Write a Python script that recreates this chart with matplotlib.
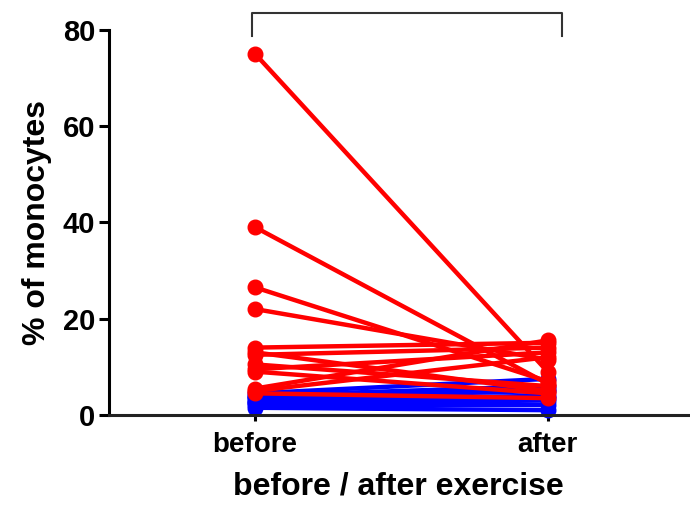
import matplotlib
matplotlib.use("Agg")
import matplotlib.pyplot as plt

plt.rcParams['font.family'] = ['Liberation Sans', 'DejaVu Sans']
plt.rcParams['font.weight'] = 'bold'

groups = ["before", "after"]
yticks = [0, 20, 40, 60, 80]

# red subjects: (before, after)
red_before = [75, 39, 26.5, 22, 14, 13, 12.5, 10.5, 9.5, 9, 5.5, 5, 4.5]
red_after = [9, 6.5, 7, 11.5, 15, 5, 14, 6, 13, 4.5, 15.5, 12, 3.5]

# blue subjects: (before, after)
blue_before = [4.5, 4, 3.8, 3.5, 3, 2.8, 2.5, 2, 1.5]
blue_after = [7.5, 6, 5.5, 5, 4, 3.5, 3, 2, 1]

fig = plt.figure(figsize=(6.9, 5.07), dpi=100)
ax = fig.add_axes([0.158, 0.1815, 0.839, 0.7595])

xs = [0, 1]
for b, a in zip(blue_before, blue_after):
    ax.plot(xs, [b, a], color='#0000ff', lw=3.2, marker='o', ms=10.5,
            clip_on=False, zorder=2)
for b, a in zip(red_before, red_after):
    ax.plot(xs, [b, a], color='#ff0000', lw=3.2, marker='o', ms=10.5,
            clip_on=False, zorder=3)

ax.set_xlim(-0.5, 1.48)
ax.set_ylim(0, 80)
ax.set_xticks(xs)
ax.set_xticklabels(groups, fontsize=20, fontweight='bold')
ax.set_yticks(yticks)
ax.set_yticklabels([str(t) for t in yticks], fontsize=21, fontweight='bold')
ax.set_ylabel("% of monocytes", fontsize=23, fontweight='bold', labelpad=8)
ax.set_xlabel("before / after exercise", fontsize=23, fontweight='bold', labelpad=10)

for s in ['top', 'right']:
    ax.spines[s].set_visible(False)
ax.spines['left'].set_linewidth(2.2)
ax.spines['bottom'].set_linewidth(2.2)
ax.spines['bottom'].set_color('#222222')
ax.tick_params(axis='y', length=7, width=2.2, pad=3)
ax.tick_params(axis='x', length=4, width=2.2, pad=8)

# significance bracket
ax.plot([-0.01, -0.01, 1.05, 1.05], [78.8, 83.6, 83.6, 78.8], color='#333333',
        lw=1.5, clip_on=False)

fig.savefig("out.png", dpi=100)
